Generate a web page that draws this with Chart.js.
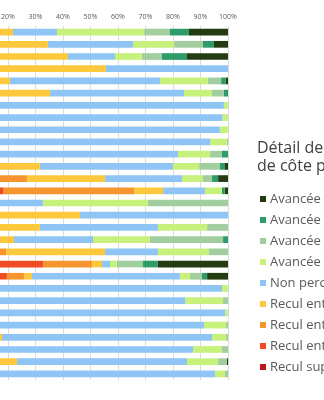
<!DOCTYPE html>
<html>
<head>
<meta charset="utf-8">
<script src="https://cdn.jsdelivr.net/npm/chart.js@4/dist/chart.umd.min.js"></script>
<style>
  html, body { margin: 0; padding: 0; background: #fff; overflow: hidden; width: 324px; height: 400px; }
  #wrap { position: absolute; left: -100px; top: 0; width: 500px; height: 400px; }
</style>
</head>
<body>
<div id="wrap"><canvas id="chart"></canvas></div>
<script>
// rows of the chart (names are cut off in the picture)
var categories = ['Secteur 1','Secteur 2','Secteur 3','Secteur 4','Secteur 5','Secteur 6','Secteur 7','Secteur 8','Secteur 9','Secteur 10',
  'Secteur 11','Secteur 12','Secteur 13','Secteur 14','Secteur 15','Secteur 16','Secteur 17','Secteur 18','Secteur 19','Secteur 20',
  'Secteur 21','Secteur 22','Secteur 23','Secteur 24','Secteur 25','Secteur 26','Secteur 27','Secteur 28','Secteur 29'];

var xTicks = [0, 10, 20, 30, 40, 50, 60, 70, 80, 90, 100];

var legendTitle = ["Détail de l'évolution du trait", "de côte par commune"];

var seriesLabels = [
  'Recul supérieur à 3 m/an',
  'Recul entre 1,5 et 3 m/an',
  'Recul entre 0,5 et 1,5 m/an',
  'Recul entre 0,1 et 0,5 m/an',
  'Non perceptible',
  'Avancée entre 0,1 et 0,5 m/an',
  'Avancée entre 0,5 et 1,5 m/an',
  'Avancée entre 1,5 et 3 m/an',
  'Avancée supérieure à 3 m/an'
];

var reculSup   = [0,0,0,0,0,0,0,0,0,0, 0,0,0,0,0,0,0,0,0,10, 0,0,0,0,0,0,0,0,0];
var recul15_3  = [0,0,0,0,0,0,0,0,0,0, 0,0,0,18.2,0,0,0,0,0,22.7, 19.6,0,0,0,0,0,0,0,0];
var recul05_15 = [0,0,0,0,0,0,0,0,0,0, 0,0,26.9,47.6,0,0,0,0,19.3,17.8, 6.2,0,0,0,0,0,0,0,0];
var recul01_05 = [21.8,34.5,41.8,55.6,20.7,35.3,0,0,0,0, 0,31.6,28.4,10.6,0,46.2,31.6,22.2,36,3.7, 2.9,0,0,0,0,17.8,0,23.3,0];
var nonPerc    = [16,31,17.1,44.4,54.6,48.7,98.5,98,97,93.5, 81.8,48.4,28,15.2,32.7,53.8,42.9,28.7,19.2,2.9, 53.8,97.8,84.4,99,91.3,76.4,87.3,61.8,95.3];
var avance01_05 = [31.7,14.9,9.8,0,17.4,10.2,1.5,2,3,6, 11.7,9.5,7.6,6.2,38.2,0,17.9,20.7,18.6,2.5, 3.7,2.2,13.8,1,8,5.1,10.5,11.3,3.6];
var avance05_15 = [9.4,10.5,7.3,0,4.8,4.3,0,0,0,0.5, 4.3,7.6,3.3,0,29.1,0,7.6,26.6,6.9,9.5, 4.3,0,1.8,0,0.7,0.7,2.2,3.2,1.1];
var avance15_3  = [6.9,4,9.1,0,1.7,1.5,0,0,0,0, 2.2,1.8,2.2,1,0,0,0,1.8,0,5.4, 1.9,0,0,0,0,0,0,0,0];
var avanceSup   = [14.2,5.1,14.9,0,0.8,0,0,0,0,0, 0,1.1,3.6,1.2,0,0,0,0,0,25.5, 7.6,0,0,0,0,0,0,0.4,0];

var colors = ['#c0161e', '#ef4b25', '#f6952f', '#fdc83c', '#8ec5f4', '#c8f17c', '#a2cd9e', '#2f9a6a', '#253b11'];
var series = [reculSup, recul15_3, recul05_15, recul01_05, nonPerc, avance01_05, avance05_15, avance15_3, avanceSup];

var datasets = series.map(function(values, i) {
  return {
    label: seriesLabels[i],
    data: values,
    backgroundColor: colors[i],
    borderWidth: 0,
    barPercentage: 0.55,
    categoryPercentage: 1
  };
});

// legend drawn by hand so the title can take two lines
var sideLegend = {
  id: 'sideLegend',
  afterDraw: function(chart) {
    var ctx = chart.ctx;
    var x0 = chart.chartArea.right + 29;
    ctx.save();
    ctx.fillStyle = '#404040';
    ctx.font = '16px "Open Sans"';
    ctx.textBaseline = 'alphabetic';
    legendTitle.forEach(function(line, i) {
      ctx.fillText(line, x0, 153 + i * 18);
    });
    var items = chart.data.datasets.slice().reverse();
    ctx.font = '13px "Open Sans"';
    ctx.textBaseline = 'middle';
    items.forEach(function(ds, i) {
      var y = 199 + i * 21;
      ctx.fillStyle = ds.backgroundColor;
      ctx.fillRect(x0 + 3, y - 3, 6, 6);
      ctx.fillStyle = '#595959';
      ctx.fillText(ds.label, x0 + 13, y);
    });
    ctx.restore();
  }
};

new Chart(document.getElementById('chart'), {
  type: 'bar',
  data: { labels: categories, datasets: datasets },
  options: {
    indexAxis: 'y',
    responsive: true,
    maintainAspectRatio: false,
    animation: false,
    layout: { padding: { left: 53, right: 172, top: 0, bottom: 20 } },
    plugins: {
      legend: { display: false },
      tooltip: { enabled: false }
    },
    scales: {
      x: {
        position: 'top',
        stacked: true,
        min: 0,
        max: 100,
        afterFit: function(scale) { scale.height = 26; },
        afterBuildTicks: function(scale) {
          scale.ticks = xTicks.map(function(v) { return { value: v }; });
        },
        ticks: {
          padding: 5,
          color: '#595959',
          font: { family: '"Open Sans"', size: 7 },
          callback: function(v) { return v + '%'; }
        },
        grid: { color: '#dcdcdc', drawTicks: false },
        border: { display: false }
      },
      y: {
        stacked: true,
        display: false
      }
    }
  },
  plugins: [sideLegend]
});
</script>
</body>
</html>
